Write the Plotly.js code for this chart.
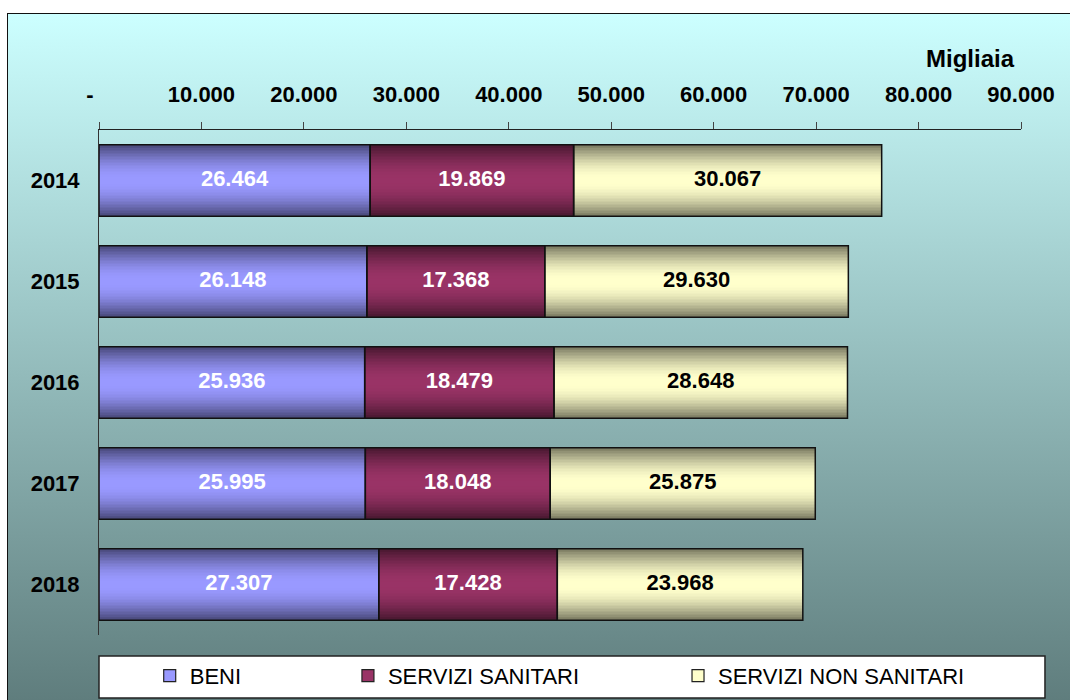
<!DOCTYPE html>
<html>
<head>
<meta charset="utf-8">
<script src="https://cdn.plot.ly/plotly-3.0.1.min.js"></script>
<style>
  html, body { margin: 0; padding: 0; background: #ffffff; width: 1070px; height: 700px; overflow: hidden; }
  #frame { position: absolute; left: 7px; top: 13px; width: 1100px; height: 720px;
           border: 1.5px solid #111; background: linear-gradient(to bottom, #CCFFFF 0px, #5F7D7D 687px); }
  #chart { position: absolute; left: 0; top: 0; width: 1070px; height: 700px; }
</style>
</head>
<body>
<div id="frame"></div>
<div id="chart"></div>
<script>
// ---- data ----
const years = ['2014', '2015', '2016', '2017', '2018'];
const beni = [26464, 26148, 25936, 25995, 27307];
const serviziSanitari = [19869, 17368, 18479, 18048, 17428];
const serviziNonSanitari = [30067, 29630, 28648, 25875, 23968];
const seriesNames = ['BENI', 'SERVIZI SANITARI', 'SERVIZI NON SANITARI'];
const tickValues = [0, 10000, 20000, 30000, 40000, 50000, 60000, 70000, 80000, 90000];
const tickLabels = ['-\u00a0\u00a0\u00a0', '10.000', '20.000', '30.000', '40.000', '50.000', '60.000', '70.000', '80.000', '90.000'];
const unitLabel = 'Migliaia';

// ---- style ----
const centerColors = [[153, 153, 255], [153, 51, 102], [255, 255, 204]];
const labelColors = ['#ffffff', '#ffffff', '#000000'];
const legendNames = ['legend', 'legend2', 'legend3'];
const FONT = '"Liberation Sans", Arial, sans-serif';
const BAR_W = 0.71;
const LAYERS = 12;

const series = [beni, serviziSanitari, serviziNonSanitari];
const bases = series.map((s, i) => s.map((v, j) => {
  let b = 0; for (let k = 0; k < i; k++) b += series[k][j]; return b;
}));

function mix(c, f) {
  return 'rgb(' + c.map(x => Math.round(x * f)).join(',') + ')';
}

const traces = [];
// gradient fills (layered bars, outer dark -> inner light)
series.forEach((vals, i) => {
  for (let k = 0; k < LAYERS; k++) {
    const t = k / (LAYERS - 1);
    const f = 0.5 + 0.5 * Math.sin(t * Math.PI / 2);
    traces.push({
      type: 'bar', orientation: 'h',
      x: vals, y: years, base: bases[i],
      width: BAR_W * (1 - k / LAYERS),
      marker: { color: mix(centerColors[i], f), line: { width: 0 } },
      showlegend: false,
      hoverinfo: 'skip'
    });
  }
});
// outlines
series.forEach((vals, i) => {
  traces.push({
    type: 'bar', orientation: 'h',
    x: vals, y: years, base: bases[i], width: BAR_W,
    marker: { color: 'rgba(0,0,0,0)', line: { width: 1.5, color: '#111' } },
    showlegend: false, hoverinfo: 'skip'
  });
});
// value labels
series.forEach((vals, i) => {
  traces.push({
    type: 'scatter', mode: 'text',
    x: vals.map((v, j) => bases[i][j] + v / 2), y: years,
    customdata: vals,
    texttemplate: '%{customdata:,.0f}',
    textfont: { family: FONT, size: 22, weight: 700, color: labelColors[i] },
    showlegend: false, hoverinfo: 'skip'
  });
});
// legend entries (no drawn marks: null value)
series.forEach((vals, i) => {
  traces.push({
    type: 'bar', orientation: 'h', x: [null], y: [years[0]],
    name: seriesNames[i], legend: legendNames[i], showlegend: true,
    marker: { color: mix(centerColors[i], 1), line: { width: 1.2, color: '#222' } },
    hoverinfo: 'skip'
  });
});

const legendCommon = {
  orientation: 'h', yanchor: 'middle', xanchor: 'left', y: -0.081,
  bgcolor: 'rgba(0,0,0,0)', borderwidth: 0,
  font: { family: FONT, size: 22, color: '#000' }
};

const layout = {
  width: 1070, height: 700,
  paper_bgcolor: 'rgba(0,0,0,0)', plot_bgcolor: 'rgba(0,0,0,0)',
  margin: { l: 99, r: 49, t: 130, b: 65, autoexpand: false },
  barmode: 'overlay',
  separators: ',.',
  hovermode: false,
  showlegend: true,
  xaxis: {
    side: 'top', range: [0, 90000], tickvals: tickValues, ticktext: tickLabels,
    showgrid: false, zeroline: false, showline: true, linecolor: '#222', linewidth: 1,
    ticks: 'outside', ticklen: 7, tickcolor: '#444', tickwidth: 1,
    ticklabelstandoff: 11,
    tickfont: { family: FONT, size: 22, weight: 700, color: '#000' },
    fixedrange: true
  },
  yaxis: {
    type: 'category', categoryorder: 'array', categoryarray: years,
    range: [4.5, -0.5],
    showgrid: false, zeroline: false, showline: true, linecolor: '#333', linewidth: 1,
    ticks: '', ticklabelstandoff: 14,
    tickfont: { family: FONT, size: 22, weight: 700, color: '#000' },
    fixedrange: true
  },
  legend: Object.assign({}, legendCommon, { x: 0.055 }),
  legend2: Object.assign({}, legendCommon, { x: 0.27 }),
  legend3: Object.assign({}, legendCommon, { x: 0.628 }),
  shapes: [{
    type: 'rect', xref: 'paper', yref: 'paper',
    x0: 0, x1: 1.026, y0: -0.1248, y1: -0.0416,
    fillcolor: '#ffffff', line: { color: '#222', width: 1.5 }, layer: 'below'
  }],
  annotations: [{
    xref: 'paper', yref: 'paper', x: 0.9447, y: 1.1406,
    xanchor: 'center', yanchor: 'middle', showarrow: false,
    text: unitLabel,
    font: { family: FONT, size: 24, weight: 700, color: '#000' }
  }]
};

Plotly.newPlot('chart', traces, layout, { staticPlot: true, displayModeBar: false });
</script>
</body>
</html>
